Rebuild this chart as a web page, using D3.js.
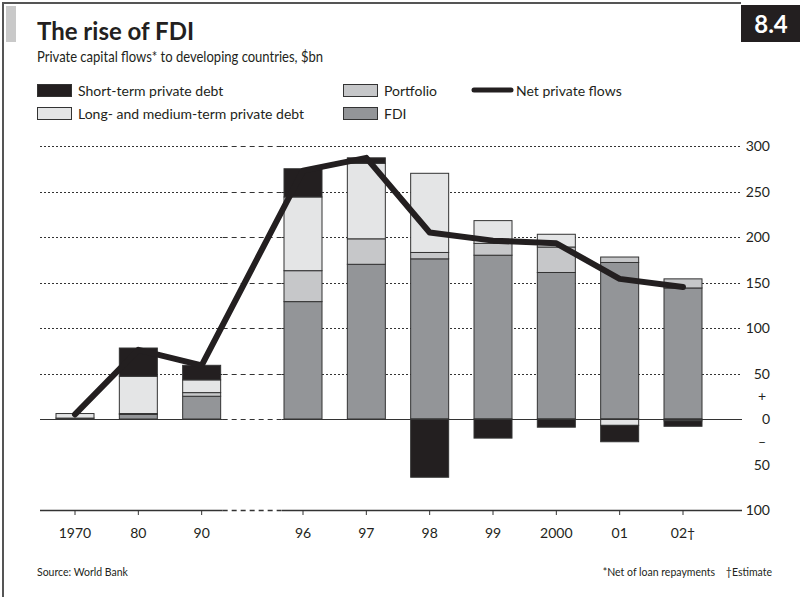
<!DOCTYPE html>
<html>
<head>
<meta charset="utf-8">
<script src="https://cdn.jsdelivr.net/npm/d3@7"></script>
<style>
  html, body { margin: 0; padding: 0; background: #fff; }
  svg { display: block; font-family: Lato, "Noto Sans", sans-serif; }
</style>
</head>
<body>
<svg id="chart" width="800" height="597"></svg>
<script>
// Private capital flows to developing countries, $bn
const years      = ["1970", "80", "90", "96", "97", "98", "99", "2000", "01", "02†"];
const fdi        = [1, 5, 25, 129, 170, 176, 180, 161, 172, 144];
const portfolio  = [0, 1, 4, 34, 28, 7, 13, 28, 6, 10];
const ltDebt     = [5, 41, 14, 81, 83, 87, 25, 14, -7, -2];
const stDebt     = [0, 31, 16, 31, 6, -64, -21, -9, -18, -6];
const netFlows   = [5, 76, 59, 273, 287, 205, 196, 193, 154, 145];
const yTicks     = [300, 250, 200, 150, 100, 50, 0, -50, -100];

const seriesKeys = ["fdi", "portfolio", "ltDebt", "stDebt"];
const seriesNames = {
  stDebt: "Short-term private debt",
  ltDebt: "Long- and medium-term private debt",
  portfolio: "Portfolio",
  fdi: "FDI"
};
const colours = {
  stDebt: "#231f20",
  ltDebt: "#e4e5e6",
  portfolio: "#c6c7c9",
  fdi: "#939598"
};
const ink = "#231f20";

const rows = years.map((y, i) => ({
  year: y, i,
  fdi: fdi[i], portfolio: portfolio[i], ltDebt: ltDebt[i], stDebt: stDebt[i]
}));

const svg = d3.select("#chart");

// frame
svg.append("rect").attr("width", 800).attr("height", 597).attr("fill", "#fff");
svg.append("path").attr("d", "M3,597 V3 H741")
  .attr("fill", "none").attr("stroke", "#555").attr("stroke-width", 2);
svg.append("rect").attr("x", 6).attr("y", 6).attr("width", 10).attr("height", 36).attr("fill", "#c9c9c9");
svg.append("rect").attr("x", 741).attr("y", 5).attr("width", 59).attr("height", 37).attr("fill", ink);
svg.append("text").attr("x", 771).attr("y", 33).attr("text-anchor", "middle")
  .attr("fill", "#fff").attr("font-size", 24).attr("font-weight", 700).text("8.4");

// titles
svg.append("text").attr("x", 37).attr("y", 40).attr("font-size", 24).attr("font-weight", 700)
  .attr("fill", ink).text("The rise of FDI");
svg.append("text").attr("x", 37).attr("y", 62).attr("font-size", 15)
  .attr("textLength", 286).attr("lengthAdjust", "spacingAndGlyphs")
  .attr("fill", ink).text("Private capital flows* to developing countries, $bn");

// legend
const legendItems = [
  { key: "stDebt", x: 37, y: 84 },
  { key: "ltDebt", x: 37, y: 107 },
  { key: "portfolio", x: 343, y: 84 },
  { key: "fdi", x: 343, y: 107 }
];
const lg = svg.append("g");
legendItems.forEach(d => {
  lg.append("rect").attr("x", d.x + 0.5).attr("y", d.y + 0.5).attr("width", 34).attr("height", 12)
    .attr("fill", colours[d.key]).attr("stroke", "#333").attr("stroke-width", 1);
  lg.append("text").attr("x", d.x + 41).attr("y", d.y + 12).attr("font-size", 14)
    .attr("fill", ink).text(seriesNames[d.key]);
});
lg.append("line").attr("x1", 474).attr("x2", 511).attr("y1", 90).attr("y2", 90)
  .attr("stroke", ink).attr("stroke-width", 5).attr("stroke-linecap", "round");
lg.append("text").attr("x", 516).attr("y", 96).attr("font-size", 14).attr("fill", ink).text("Net private flows");

// scales: a gap of 0.6 slot separates the decade points from the annual ones
const slot = i => i + (i >= 3 ? 0.6 : 0);
const x = d3.scaleLinear().domain([0, slot(years.length - 1)]).range([75, 683]);
const y = d3.scaleLinear().domain([-100, 300]).range([510, 146]);
const barW = 38;

const left = 40, right = 742;
const gapL = x(slot(2)) + barW / 2 + 2, gapR = x(slot(3)) - barW / 2 - 2;

// grid lines
const grid = svg.append("g").attr("stroke", "#333").attr("stroke-width", 1).attr("fill", "none");
yTicks.forEach(v => {
  const yy = Math.round(y(v)) + 0.5;
  if (v === -50) return;
  const solid = (v === 0 || v === -100);
  const w = v === -100 ? 1.5 : 1;
  grid.append("line").attr("x1", left).attr("x2", gapL).attr("y1", yy).attr("y2", yy)
    .attr("stroke-width", w).attr("stroke-dasharray", solid ? null : "2,2");
  grid.append("line").attr("x1", gapL).attr("x2", gapR).attr("y1", yy).attr("y2", yy)
    .attr("stroke-width", w).attr("stroke-dasharray", "5,4");
  grid.append("line").attr("x1", gapR).attr("x2", right).attr("y1", yy).attr("y2", yy)
    .attr("stroke-width", w).attr("stroke-dasharray", solid ? null : "2,2");
});

// stacked bars
const stack = d3.stack().keys(seriesKeys).offset(d3.stackOffsetDiverging);
const layers = stack(rows);
const bars = svg.append("g");
layers.forEach(layer => {
  bars.selectAll(null).data(layer.filter(d => d[1] - d[0] !== 0)).join("rect")
    .attr("x", d => x(slot(d.data.i)) - barW / 2)
    .attr("width", barW)
    .attr("y", d => y(Math.max(d[0], d[1])))
    .attr("height", d => Math.abs(y(d[0]) - y(d[1])))
    .attr("fill", colours[layer.key])
    .attr("stroke", "#333").attr("stroke-width", 1);
});

// zero line over bars
svg.append("line").attr("x1", gapR).attr("x2", right).attr("y1", Math.round(y(0)) + 0.5).attr("y2", Math.round(y(0)) + 0.5)
  .attr("stroke", "#333").attr("stroke-width", 1);
svg.append("line").attr("x1", left).attr("x2", gapL).attr("y1", Math.round(y(0)) + 0.5).attr("y2", Math.round(y(0)) + 0.5)
  .attr("stroke", "#333").attr("stroke-width", 1);

// net private flows line
const line = d3.line().x((d, i) => x(slot(i))).y(d => y(d));
svg.append("path").datum(netFlows).attr("d", line)
  .attr("fill", "none").attr("stroke", ink).attr("stroke-width", 6)
  .attr("stroke-linejoin", "round").attr("stroke-linecap", "round");

// x axis ticks and labels
const xa = svg.append("g");
years.forEach((yr, i) => {
  const cx = x(slot(i));
  xa.append("line").attr("x1", cx).attr("x2", cx).attr("y1", y(-100)).attr("y2", y(-100) + 5)
    .attr("stroke", "#333").attr("stroke-width", 1);
  xa.append("text").attr("x", cx).attr("y", 538).attr("text-anchor", "middle")
    .attr("font-size", 14).attr("fill", ink).text(yr);
});

// y axis labels
const ya = svg.append("g");
yTicks.forEach(v => {
  ya.append("text").attr("x", 770).attr("y", y(v) + 5).attr("text-anchor", "end")
    .attr("font-size", 14).attr("fill", ink).text(Math.abs(v));
});
ya.append("text").attr("x", 762).attr("y", y(25) + 5).attr("text-anchor", "middle")
  .attr("font-size", 14).attr("fill", ink).text("+");
ya.append("text").attr("x", 762).attr("y", y(-25) + 5).attr("text-anchor", "middle")
  .attr("font-size", 14).attr("fill", ink).text("–");

// notes
svg.append("text").attr("x", 37).attr("y", 576).attr("font-size", 10.5).attr("fill", ink).text("Source: World Bank");
svg.append("text").attr("x", 772).attr("y", 576).attr("text-anchor", "end").attr("font-size", 10.5)
  .attr("fill", ink).attr("xml:space", "preserve").text("*Net of loan repayments    †Estimate");
</script>
</body>
</html>
